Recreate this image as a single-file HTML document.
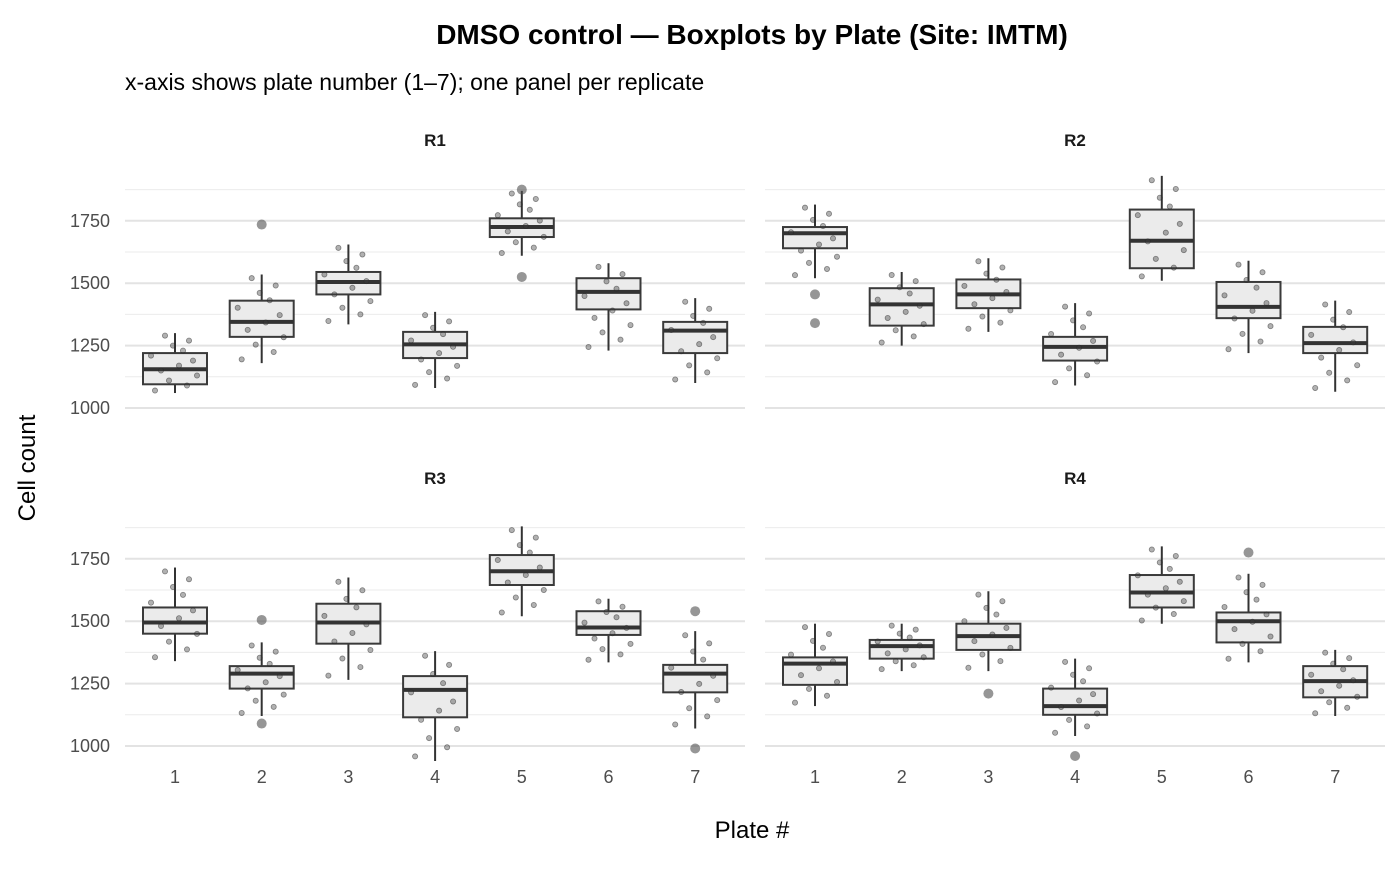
<!DOCTYPE html>
<html><head><meta charset="utf-8"><style>
body{margin:0;background:#fff;}
svg text{font-family:"Liberation Sans",Arial,sans-serif;}
</style></head><body>
<svg id="chart" width="1400" height="865" xmlns="http://www.w3.org/2000/svg">
<text x="752" y="44" text-anchor="middle" font-size="28" font-weight="bold" fill="#000">DMSO control — Boxplots by Plate (Site: IMTM)</text>
<text x="125" y="90" font-size="23" fill="#000">x-axis shows plate number (1–7); one panel per replicate</text>
<text transform="translate(35,468) rotate(-90)" text-anchor="middle" font-size="24" fill="#000">Cell count</text>
<text x="752" y="838" text-anchor="middle" font-size="24" fill="#000">Plate #</text>
<g id="panels"></g>
</svg>
<script>
const plates=[1,2,3,4,5,6,7];
const panelNames=["R1","R2","R3","R4"];
const yTicks=[1000,1250,1500,1750];
const minorTicks=[1125,1375,1625,1875];
// stats per panel: [median,q1,q3,whiskerLo,whiskerHi]
const statsR1=[[1155,1095,1220,1060,1300],[1345,1285,1430,1180,1535],[1505,1455,1545,1335,1655],[1255,1200,1305,1080,1385],[1725,1685,1760,1610,1870],[1465,1395,1520,1230,1580],[1310,1220,1345,1100,1440]];
const statsR2=[[1700,1640,1725,1520,1815],[1415,1330,1480,1250,1545],[1455,1400,1515,1305,1600],[1245,1190,1285,1090,1420],[1670,1560,1795,1510,1930],[1405,1360,1505,1220,1590],[1260,1220,1325,1065,1430]];
const statsR3=[[1495,1450,1555,1340,1715],[1290,1230,1320,1120,1415],[1495,1410,1570,1265,1675],[1225,1115,1280,940,1380],[1700,1645,1765,1520,1880],[1475,1445,1540,1335,1590],[1290,1215,1325,1070,1460]];
const statsR4=[[1330,1245,1355,1160,1490],[1400,1350,1425,1300,1490],[1440,1385,1490,1300,1620],[1160,1125,1230,1040,1350],[1615,1555,1685,1490,1800],[1500,1415,1535,1335,1690],[1260,1195,1320,1120,1385]];
const outR1=[[],[1735],[],[],[1525,1875],[],[]];
const outR2=[[1455,1340],[],[],[],[],[],[]];
const outR3=[[],[1505,1090],[],[],[],[],[1540,990]];
const outR4=[[],[],[1210],[960],[],[1775],[]];
const allStats=[statsR1,statsR2,statsR3,statsR4];
const allOut=[outR1,outR2,outR3,outR4];
const jit=[-20,12,-6,22,-14,4,18,-24,8,-2,14,-10];
const NS="http://www.w3.org/2000/svg";
const g=document.getElementById('panels');
function mk(t,a,p){const e=document.createElementNS(NS,t);for(const k in a)e.setAttribute(k,a[k]);(p||g).appendChild(e);return e;}
const panelX=[125,765],pw=620,y1000=[408,746];
const pxPerUnit=62.4/250;
panelNames.forEach((nm,pi)=>{
  const col=pi%2,row=Math.floor(pi/2);
  const x0=panelX[col],yb=y1000[row];
  const Y=v=>yb-(v-1000)*pxPerUnit;
  const X=p=>x0+50+(p-1)*86.7;
  const pg=mk('g',{});
  
  
  minorTicks.forEach(v=>{const l=mk('line',{x1:x0,x2:x0+pw,y1:Y(v),y2:Y(v),stroke:'#ebebeb','stroke-width':1},pg);});
  yTicks.forEach(v=>{const l=mk('line',{x1:x0,x2:x0+pw,y1:Y(v),y2:Y(v),stroke:'#e3e3e3','stroke-width':2},pg);});
  const st=mk('text',{x:x0+pw/2,y:yb-262,'text-anchor':'middle','font-size':17,'font-weight':'bold',fill:'#1a1a1a'},pg);st.textContent=nm;
  
  if(col===0){yTicks.forEach(v=>{const t=mk('text',{x:110,y:Y(v)+6,'text-anchor':'end','font-size':18,fill:'#4d4d4d'},pg);t.textContent=v;});}
  if(row===1){plates.forEach(p=>{const t=mk('text',{x:X(p),y:783,'text-anchor':'middle','font-size':18,fill:'#4d4d4d'},pg);t.textContent=p;});}
  allStats[pi].forEach((s,i)=>{
    const [med,q1,q3,lo,hi]=s;const cx=X(plates[i]);
    const bg=mk('g',{},pg);
    mk('line',{x1:cx,x2:cx,y1:Y(lo),y2:Y(hi),stroke:'#333','stroke-width':2},bg);
    mk('rect',{x:cx-32,y:Y(q3),width:64,height:Y(q1)-Y(q3),fill:'#ebebeb',stroke:'#3a3a3a','stroke-width':2},bg);
    mk('line',{x1:cx-32,x2:cx+32,y1:Y(med),y2:Y(med),stroke:'#333','stroke-width':4},bg);
    for(let k=0;k<12;k++){const v=lo+(hi-lo)*(k+0.5)/12;const c=mk('circle',{cx:cx+jit[k],cy:Y(v),r:2.6,fill:'rgba(60,60,60,0.4)',stroke:'rgba(40,40,40,0.5)','stroke-width':0.8},bg);}
    allOut[pi][i].forEach(v=>{const c=mk('circle',{cx:cx,cy:Y(v),r:5,fill:'rgba(80,80,80,0.6)'},bg);});
  });
});
</script>
</body></html>
